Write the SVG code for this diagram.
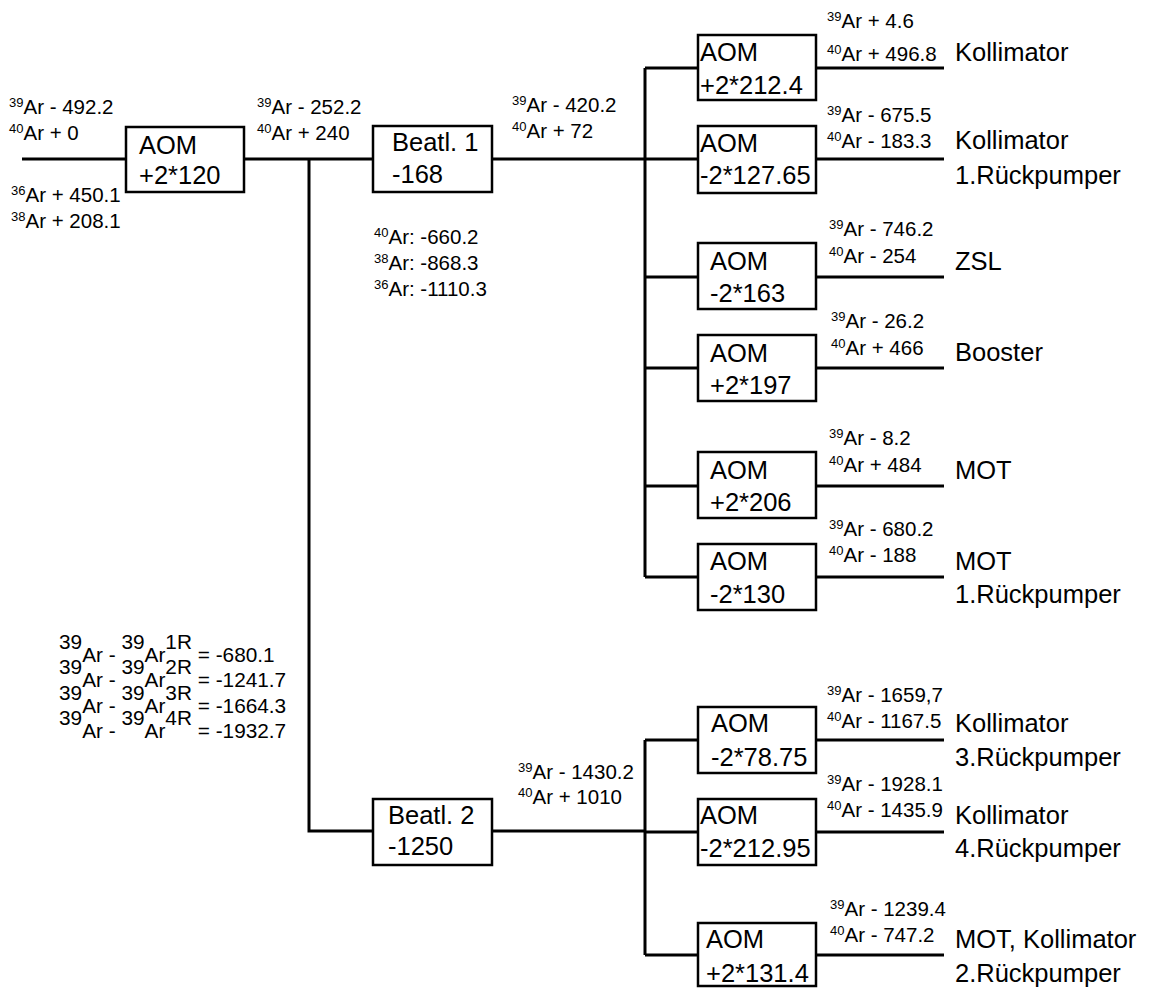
<svg xmlns="http://www.w3.org/2000/svg" width="1152" height="988" viewBox="0 0 1152 988">
<style>
text{font-family:"Liberation Sans",Arial,sans-serif;fill:#000}
.big{font-size:25.5px}
.sm{font-size:20.5px}
.sup{font-size:13px}
.eq{font-size:20.8px}
.box{fill:#fff;stroke:#000;stroke-width:2.5}
.ln{fill:none;stroke:#000;stroke-width:3}
</style>
<rect width="1152" height="988" fill="#fff"/>
<g id="connectors">
<path class="ln" d="M22 159H126M244 159H373M309 159V831H373M492 159H645M645 68V577M645 68H698M645 159H698M645 277H698M645 368H698M645 486H698M645 577H698M492 831H645M645 740V955M645 740H698M645 832H698M645 955H698"/>
<path class="ln" d="M816 68H944M816 159H944M816 277H944M816 368H944M816 486H944M816 577H944M816 740H944M816 832H944M816 955H944"/>
</g>
<g id="aom0"><rect class="box" x="126" y="127" width="118" height="65"/><text class="big" x="139" y="154">AOM</text><text class="big" x="139" y="184">+2*120</text></g>
<g id="beatl1"><rect class="box" x="373" y="126" width="119" height="66"/><text class="big" x="392" y="151">Beatl. 1</text><text class="big" x="392" y="183">-168</text></g>
<g id="beatl2"><rect class="box" x="373" y="799" width="119" height="66"/><text class="big" x="388" y="824">Beatl. 2</text><text class="big" x="388" y="855">-1250</text></g>
<g id="aom1"><rect class="box" x="698" y="35" width="118" height="65"/><text class="big" x="700" y="61">AOM</text><text class="big" x="700" y="94">+2*212.4</text></g>
<g id="aom2"><rect class="box" x="698" y="126" width="118" height="67"/><text class="big" x="700" y="152">AOM</text><text class="big" x="700" y="184">-2*127.65</text></g>
<g id="aom3"><rect class="box" x="698" y="243" width="118" height="66"/><text class="big" x="710" y="270">AOM</text><text class="big" x="710" y="302">-2*163</text></g>
<g id="aom4"><rect class="box" x="698" y="335" width="118" height="66"/><text class="big" x="710" y="362">AOM</text><text class="big" x="710" y="394">+2*197</text></g>
<g id="aom5"><rect class="box" x="698" y="452" width="118" height="66"/><text class="big" x="710" y="479">AOM</text><text class="big" x="710" y="511">+2*206</text></g>
<g id="aom6"><rect class="box" x="698" y="544" width="118" height="66"/><text class="big" x="710" y="570">AOM</text><text class="big" x="710" y="603">-2*130</text></g>
<g id="aom7"><rect class="box" x="698" y="707" width="118" height="66"/><text class="big" x="711" y="732">AOM</text><text class="big" x="711" y="766">-2*78.75</text></g>
<g id="aom8"><rect class="box" x="698" y="799" width="118" height="66"/><text class="big" x="700" y="824">AOM</text><text class="big" x="700" y="857">-2*212.95</text></g>
<g id="aom9"><rect class="box" x="698" y="923" width="118" height="63"/><text class="big" x="706" y="948">AOM</text><text class="big" x="706" y="982">+2*131.4</text></g>
<g id="labels">
<text class="sm" x="9" y="114"><tspan class="sup" dy="-7">39</tspan><tspan dy="7">Ar - 492.2</tspan></text>
<text class="sm" x="9" y="140"><tspan class="sup" dy="-7">40</tspan><tspan dy="7">Ar + 0</tspan></text>
<text class="sm" x="11" y="202"><tspan class="sup" dy="-7">36</tspan><tspan dy="7">Ar + 450.1</tspan></text>
<text class="sm" x="11" y="228"><tspan class="sup" dy="-7">38</tspan><tspan dy="7">Ar + 208.1</tspan></text>
<text class="sm" x="257" y="114"><tspan class="sup" dy="-7">39</tspan><tspan dy="7">Ar - 252.2</tspan></text>
<text class="sm" x="257" y="140"><tspan class="sup" dy="-7">40</tspan><tspan dy="7">Ar + 240</tspan></text>
<text class="sm" x="512" y="112"><tspan class="sup" dy="-7">39</tspan><tspan dy="7">Ar - 420.2</tspan></text>
<text class="sm" x="512" y="138"><tspan class="sup" dy="-7">40</tspan><tspan dy="7">Ar + 72</tspan></text>
<text class="sm" x="374" y="244"><tspan class="sup" dy="-7">40</tspan><tspan dy="7">Ar: -660.2</tspan></text>
<text class="sm" x="374" y="270"><tspan class="sup" dy="-7">38</tspan><tspan dy="7">Ar: -868.3</tspan></text>
<text class="sm" x="374" y="296"><tspan class="sup" dy="-7">36</tspan><tspan dy="7">Ar: -1110.3</tspan></text>
<text class="sm" x="518" y="779"><tspan class="sup" dy="-7">39</tspan><tspan dy="7">Ar - 1430.2</tspan></text>
<text class="sm" x="518" y="804"><tspan class="sup" dy="-7">40</tspan><tspan dy="7">Ar + 1010</tspan></text>
<text class="sm" x="827" y="28"><tspan class="sup" dy="-7">39</tspan><tspan dy="7">Ar + 4.6</tspan></text>
<text class="sm" x="827" y="61"><tspan class="sup" dy="-7">40</tspan><tspan dy="7">Ar + 496.8</tspan></text>
<text class="sm" x="827" y="122"><tspan class="sup" dy="-7">39</tspan><tspan dy="7">Ar - 675.5</tspan></text>
<text class="sm" x="827" y="148"><tspan class="sup" dy="-7">40</tspan><tspan dy="7">Ar - 183.3</tspan></text>
<text class="sm" x="829" y="236"><tspan class="sup" dy="-7">39</tspan><tspan dy="7">Ar - 746.2</tspan></text>
<text class="sm" x="829" y="263"><tspan class="sup" dy="-7">40</tspan><tspan dy="7">Ar - 254</tspan></text>
<text class="sm" x="831" y="328"><tspan class="sup" dy="-7">39</tspan><tspan dy="7">Ar - 26.2</tspan></text>
<text class="sm" x="831" y="355"><tspan class="sup" dy="-7">40</tspan><tspan dy="7">Ar + 466</tspan></text>
<text class="sm" x="829" y="445"><tspan class="sup" dy="-7">39</tspan><tspan dy="7">Ar - 8.2</tspan></text>
<text class="sm" x="829" y="472"><tspan class="sup" dy="-7">40</tspan><tspan dy="7">Ar + 484</tspan></text>
<text class="sm" x="829" y="536"><tspan class="sup" dy="-7">39</tspan><tspan dy="7">Ar - 680.2</tspan></text>
<text class="sm" x="829" y="562"><tspan class="sup" dy="-7">40</tspan><tspan dy="7">Ar - 188</tspan></text>
<text class="sm" x="827" y="702"><tspan class="sup" dy="-7">39</tspan><tspan dy="7">Ar - 1659,7</tspan></text>
<text class="sm" x="827" y="728"><tspan class="sup" dy="-7">40</tspan><tspan dy="7">Ar - 1167.5</tspan></text>
<text class="sm" x="827" y="791"><tspan class="sup" dy="-7">39</tspan><tspan dy="7">Ar - 1928.1</tspan></text>
<text class="sm" x="827" y="817"><tspan class="sup" dy="-7">40</tspan><tspan dy="7">Ar - 1435.9</tspan></text>
<text class="sm" x="830" y="916"><tspan class="sup" dy="-7">39</tspan><tspan dy="7">Ar - 1239.4</tspan></text>
<text class="sm" x="830" y="942"><tspan class="sup" dy="-7">40</tspan><tspan dy="7">Ar - 747.2</tspan></text>
<text class="big" x="955" y="61">Kollimator</text>
<text class="big" x="955" y="149">Kollimator</text>
<text class="big" x="955" y="184">1.Rückpumper</text>
<text class="big" x="955" y="270">ZSL</text>
<text class="big" x="955" y="361">Booster</text>
<text class="big" x="955" y="479">MOT</text>
<text class="big" x="955" y="570">MOT</text>
<text class="big" x="955" y="603">1.Rückpumper</text>
<text class="big" x="955" y="732">Kollimator</text>
<text class="big" x="955" y="766">3.Rückpumper</text>
<text class="big" x="955" y="824">Kollimator</text>
<text class="big" x="955" y="857">4.Rückpumper</text>
<text class="big" x="955" y="948">MOT, Kollimator</text>
<text class="big" x="955" y="982">2.Rückpumper</text>
<text class="eq" x="59" y="649">39<tspan dy="13">Ar - </tspan><tspan dy="-13">39</tspan><tspan dy="13">Ar</tspan><tspan dy="-13">1R</tspan><tspan dy="13"> = -680.1</tspan></text>
<text class="eq" x="59" y="674">39<tspan dy="13">Ar - </tspan><tspan dy="-13">39</tspan><tspan dy="13">Ar</tspan><tspan dy="-13">2R</tspan><tspan dy="13"> = -1241.7</tspan></text>
<text class="eq" x="59" y="700">39<tspan dy="13">Ar - </tspan><tspan dy="-13">39</tspan><tspan dy="13">Ar</tspan><tspan dy="-13">3R</tspan><tspan dy="13"> = -1664.3</tspan></text>
<text class="eq" x="59" y="725">39<tspan dy="13">Ar - </tspan><tspan dy="-13">39</tspan><tspan dy="13">Ar</tspan><tspan dy="-13">4R</tspan><tspan dy="13"> = -1932.7</tspan></text>
</g>
</svg>
